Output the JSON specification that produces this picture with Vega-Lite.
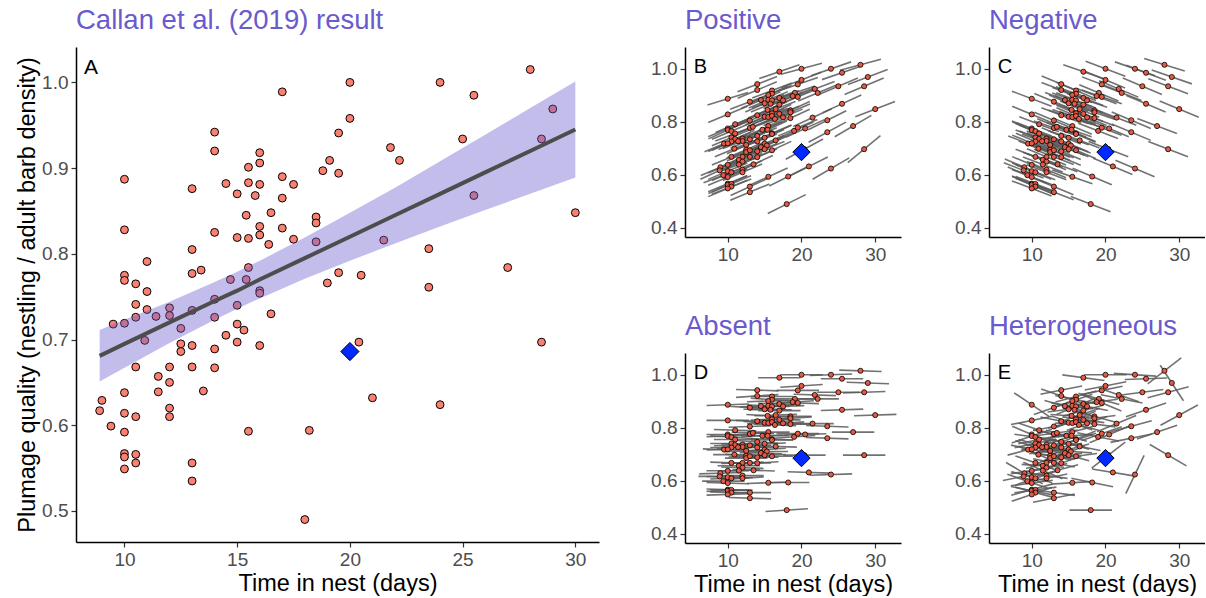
{
"$schema": "https://vega.github.io/schema/vega-lite/v6.json",
"padding": {"left": 15, "top": 6, "right": 0, "bottom": 0},
"background": "white",
"config": {
  "view": {"stroke": null},
  "font": "Liberation Sans",
  "axis": {"grid": false, "domainColor": "black", "domainWidth": 1.5, "tickColor": "#333333", "tickWidth": 1.2, "tickSize": 5, "labelColor": "#4D4D4D", "labelFontSize": 19, "labelFont": "Liberation Sans", "titleFont": "Liberation Sans", "titleFontSize": 23.5, "titleFontWeight": "normal", "titleColor": "black", "labelPadding": 3, "titlePadding": 2},
  "title": {"anchor": "start", "frame": "group", "color": "#6A5ACD", "fontSize": 27.5, "fontWeight": "normal", "font": "Liberation Sans", "offset": 13}
},
"datasets": {
  "pts": [
{"x":17,"y":0.989,"b":0.010,"c":-0.010,"d":0,"e":-0.004},
{"x":10,"y":0.887,"b":0.009,"c":-0.011,"d":0.001,"e":-0.018},
{"x":14,"y":0.942,"b":0.011,"c":-0.012,"d":-0.001,"e":0.006},
{"x":14,"y":0.920,"b":0.012,"c":-0.011,"d":0.002,"e":-0.010},
{"x":16,"y":0.918,"b":0.011,"c":-0.012,"d":0,"e":0.008},
{"x":16,"y":0.906,"b":0.012,"c":-0.010,"d":-0.002,"e":-0.006},
{"x":15.5,"y":0.901,"b":0.013,"c":-0.011,"d":0.001,"e":0.010},
{"x":19.1,"y":0.909,"b":0.010,"c":-0.012,"d":0,"e":-0.008},
{"x":18.8,"y":0.897,"b":0.011,"c":-0.011,"d":0.002,"e":0.004},
{"x":19.5,"y":0.894,"b":0.012,"c":-0.010,"d":-0.001,"e":-0.012},
{"x":19.5,"y":0.941,"b":0.010,"c":-0.011,"d":0,"e":0.006},
{"x":13,"y":0.876,"b":0.011,"c":-0.012,"d":-0.002,"e":0.010},
{"x":14.5,"y":0.882,"b":0.012,"c":-0.011,"d":0.001,"e":-0.008},
{"x":15,"y":0.870,"b":0.013,"c":-0.012,"d":0,"e":0.004},
{"x":15.5,"y":0.883,"b":0.012,"c":-0.010,"d":-0.001,"e":-0.004},
{"x":16,"y":0.881,"b":0.011,"c":-0.011,"d":0.002,"e":0.012},
{"x":15.8,"y":0.868,"b":0.012,"c":-0.012,"d":0,"e":-0.010},
{"x":17,"y":0.890,"b":0.011,"c":-0.011,"d":-0.001,"e":0.006},
{"x":17.5,"y":0.881,"b":0.012,"c":-0.010,"d":0.001,"e":-0.006},
{"x":17,"y":0.865,"b":0.013,"c":-0.012,"d":0,"e":0.008},
{"x":15.4,"y":0.845,"b":0.012,"c":-0.011,"d":-0.002,"e":-0.002},
{"x":16.5,"y":0.848,"b":0.011,"c":-0.012,"d":0.001,"e":0.010},
{"x":18.5,"y":0.843,"b":0.013,"c":-0.011,"d":0,"e":-0.008},
{"x":18.5,"y":0.836,"b":0.012,"c":-0.010,"d":0.002,"e":0.004},
{"x":10,"y":0.828,"b":0.012,"c":-0.012,"d":0,"e":0.006},
{"x":14,"y":0.825,"b":0.012,"c":-0.011,"d":-0.001,"e":-0.006},
{"x":16,"y":0.832,"b":0.013,"c":-0.012,"d":0.001,"e":0.012},
{"x":17,"y":0.830,"b":0.011,"c":-0.011,"d":0,"e":-0.004},
{"x":15,"y":0.819,"b":0.012,"c":-0.010,"d":-0.002,"e":0.008},
{"x":15.5,"y":0.818,"b":0.013,"c":-0.011,"d":0.001,"e":-0.010},
{"x":16,"y":0.822,"b":0.012,"c":-0.012,"d":0,"e":0.002},
{"x":16.4,"y":0.811,"b":0.011,"c":-0.011,"d":-0.001,"e":-0.008},
{"x":17.5,"y":0.817,"b":0.012,"c":-0.012,"d":0.002,"e":0.010},
{"x":18.5,"y":0.814,"b":0.013,"c":-0.011,"d":0,"e":-0.004},
{"x":13,"y":0.805,"b":0.012,"c":-0.012,"d":0.001,"e":0.006},
{"x":11,"y":0.791,"b":0.012,"c":-0.011,"d":-0.001,"e":-0.010},
{"x":15.5,"y":0.784,"b":0.013,"c":-0.012,"d":0,"e":0.008},
{"x":13,"y":0.777,"b":0.012,"c":-0.010,"d":0.002,"e":-0.006},
{"x":13.4,"y":0.781,"b":0.011,"c":-0.012,"d":-0.001,"e":0.004},
{"x":10,"y":0.775,"b":0.012,"c":-0.011,"d":0,"e":-0.012},
{"x":10,"y":0.769,"b":0.013,"c":-0.012,"d":0.001,"e":0.010},
{"x":10.5,"y":0.765,"b":0.012,"c":-0.011,"d":-0.002,"e":-0.004},
{"x":11,"y":0.756,"b":0.011,"c":-0.012,"d":0,"e":0.006},
{"x":14.7,"y":0.770,"b":0.012,"c":-0.011,"d":0.001,"e":-0.008},
{"x":15.4,"y":0.770,"b":0.013,"c":-0.010,"d":0,"e":0.002},
{"x":16,"y":0.757,"b":0.012,"c":-0.012,"d":-0.001,"e":0.012},
{"x":19,"y":0.766,"b":0.013,"c":-0.011,"d":0.002,"e":-0.006},
{"x":20,"y":1.000,"b":0.008,"c":-0.011,"d":0,"e":0},
{"x":24,"y":1.000,"b":0.010,"c":-0.010,"d":0.001,"e":-0.002},
{"x":28,"y":1.015,"b":0.008,"c":-0.009,"d":-0.001,"e":0.020},
{"x":25.5,"y":0.985,"b":0.010,"c":-0.011,"d":0,"e":0.001},
{"x":20,"y":0.958,"b":0.011,"c":-0.012,"d":0.002,"e":0.006},
{"x":29,"y":0.969,"b":0.011,"c":-0.010,"d":-0.001,"e":-0.030},
{"x":25,"y":0.934,"b":0.012,"c":-0.012,"d":0,"e":0.004},
{"x":28.5,"y":0.934,"b":0.012,"c":-0.011,"d":0.001,"e":0.008},
{"x":21.8,"y":0.924,"b":0.011,"c":-0.012,"d":-0.001,"e":-0.010},
{"x":22.2,"y":0.909,"b":0.012,"c":-0.011,"d":0,"e":-0.006},
{"x":25.5,"y":0.868,"b":0.013,"c":-0.012,"d":0.001,"e":0.010},
{"x":30,"y":0.848,"b":0.011,"c":-0.012,"d":0.001,"e":0.015},
{"x":21.5,"y":0.816,"b":0.013,"c":-0.011,"d":0,"e":0.012},
{"x":23.5,"y":0.806,"b":0.014,"c":-0.012,"d":-0.001,"e":0.008},
{"x":19.5,"y":0.778,"b":0.012,"c":-0.011,"d":0,"e":0.010},
{"x":20.5,"y":0.775,"b":0.013,"c":-0.012,"d":0.001,"e":0.012},
{"x":27,"y":0.784,"b":0.016,"c":-0.011,"d":0,"e":0.010},
{"x":23.5,"y":0.761,"b":0.015,"c":-0.012,"d":-0.001,"e":0.006},
{"x":20.4,"y":0.697,"b":0.015,"c":-0.011,"d":0,"e":0.020},
{"x":28.5,"y":0.697,"b":0.021,"c":-0.011,"d":0,"e":-0.016},
{"x":21,"y":0.632,"b":0.014,"c":-0.012,"d":-0.001,"e":-0.005},
{"x":24,"y":0.624,"b":0.016,"c":-0.012,"d":0.001,"e":0.034},
{"x":10.5,"y":0.741,"b":0.012,"c":-0.011,"d":0,"e":0.006},
{"x":11,"y":0.735,"b":0.013,"c":-0.012,"d":0.001,"e":-0.008},
{"x":12,"y":0.737,"b":0.012,"c":-0.011,"d":-0.001,"e":0.010},
{"x":12,"y":0.728,"b":0.011,"c":-0.012,"d":0,"e":-0.004},
{"x":11.4,"y":0.727,"b":0.012,"c":-0.010,"d":0.002,"e":0.004},
{"x":10.5,"y":0.726,"b":0.013,"c":-0.012,"d":0,"e":-0.010},
{"x":9.5,"y":0.718,"b":0.012,"c":-0.011,"d":-0.001,"e":0.008},
{"x":10,"y":0.719,"b":0.012,"c":-0.012,"d":0.001,"e":-0.006},
{"x":13,"y":0.734,"b":0.013,"c":-0.011,"d":0,"e":0.012},
{"x":14,"y":0.747,"b":0.012,"c":-0.012,"d":-0.002,"e":-0.004},
{"x":14,"y":0.726,"b":0.011,"c":-0.011,"d":0,"e":0.006},
{"x":15,"y":0.740,"b":0.012,"c":-0.010,"d":0.001,"e":-0.008},
{"x":16,"y":0.754,"b":0.013,"c":-0.012,"d":0,"e":0.010},
{"x":16.5,"y":0.730,"b":0.012,"c":-0.011,"d":-0.001,"e":-0.006},
{"x":12.5,"y":0.713,"b":0.013,"c":-0.012,"d":0.001,"e":0.004},
{"x":10.9,"y":0.699,"b":0.012,"c":-0.011,"d":0,"e":-0.012},
{"x":15,"y":0.718,"b":0.012,"c":-0.012,"d":0.002,"e":0.008},
{"x":15.3,"y":0.711,"b":0.013,"c":-0.011,"d":0,"e":-0.002},
{"x":14.5,"y":0.705,"b":0.012,"c":-0.012,"d":-0.001,"e":0.010},
{"x":15,"y":0.697,"b":0.011,"c":-0.011,"d":0.001,"e":-0.008},
{"x":16,"y":0.693,"b":0.013,"c":-0.012,"d":0,"e":0.004},
{"x":12.5,"y":0.695,"b":0.012,"c":-0.011,"d":-0.002,"e":-0.006},
{"x":12.5,"y":0.686,"b":0.013,"c":-0.012,"d":0,"e":0.012},
{"x":13,"y":0.693,"b":0.012,"c":-0.011,"d":0.001,"e":-0.004},
{"x":14,"y":0.689,"b":0.011,"c":-0.012,"d":0,"e":0.006},
{"x":10.5,"y":0.668,"b":0.012,"c":-0.011,"d":-0.001,"e":-0.010},
{"x":12,"y":0.668,"b":0.013,"c":-0.012,"d":0.001,"e":0.008},
{"x":13,"y":0.668,"b":0.012,"c":-0.011,"d":0,"e":-0.006},
{"x":14,"y":0.667,"b":0.012,"c":-0.012,"d":0.002,"e":0.010},
{"x":11.5,"y":0.657,"b":0.013,"c":-0.011,"d":0,"e":-0.002},
{"x":12,"y":0.650,"b":0.012,"c":-0.012,"d":-0.001,"e":0.006},
{"x":11.5,"y":0.639,"b":0.011,"c":-0.011,"d":0.001,"e":-0.012},
{"x":10,"y":0.638,"b":0.012,"c":-0.012,"d":0,"e":0.004},
{"x":13.5,"y":0.640,"b":0.013,"c":-0.011,"d":-0.001,"e":0.008},
{"x":9,"y":0.629,"b":0.012,"c":-0.012,"d":0.001,"e":-0.016},
{"x":8.9,"y":0.617,"b":0.013,"c":-0.011,"d":0,"e":0.006},
{"x":10,"y":0.614,"b":0.012,"c":-0.012,"d":-0.001,"e":-0.008},
{"x":10.5,"y":0.610,"b":0.012,"c":-0.011,"d":0.001,"e":0.010},
{"x":12,"y":0.620,"b":0.013,"c":-0.012,"d":0,"e":-0.004},
{"x":12,"y":0.610,"b":0.012,"c":-0.011,"d":0.002,"e":0.006},
{"x":9.4,"y":0.599,"b":0.011,"c":-0.012,"d":0,"e":-0.010},
{"x":10,"y":0.592,"b":0.012,"c":-0.011,"d":-0.001,"e":0.004},
{"x":15.5,"y":0.593,"b":0.013,"c":-0.010,"d":0.001,"e":0.002},
{"x":18.2,"y":0.594,"b":0.014,"c":-0.012,"d":0,"e":-0.006},
{"x":10,"y":0.567,"b":0.012,"c":-0.011,"d":-0.001,"e":0.008},
{"x":10,"y":0.563,"b":0.013,"c":-0.012,"d":0.001,"e":-0.006},
{"x":10.5,"y":0.566,"b":0.012,"c":-0.011,"d":0,"e":0.004},
{"x":10.5,"y":0.556,"b":0.011,"c":-0.012,"d":-0.001,"e":-0.008},
{"x":10,"y":0.549,"b":0.012,"c":-0.011,"d":0.001,"e":0.010},
{"x":13,"y":0.556,"b":0.013,"c":-0.012,"d":0,"e":-0.004},
{"x":13,"y":0.535,"b":0.012,"c":-0.011,"d":-0.001,"e":0.006},
{"x":18,"y":0.490,"b":0.014,"c":-0.011,"d":0.002,"e":0}
  ],
  "dia": [{"x": 20, "y": 0.686}],
  "band": [
{"x":8.9,"lo":0.651,"hi":0.711,"fit":0.681},
{"x":10,"lo":0.667,"hi":0.723,"fit":0.695},
{"x":12,"lo":0.696,"hi":0.744,"fit":0.720},
{"x":14,"lo":0.723,"hi":0.767,"fit":0.745},
{"x":15,"lo":0.736,"hi":0.779,"fit":0.757},
{"x":16,"lo":0.748,"hi":0.792,"fit":0.770},
{"x":18,"lo":0.771,"hi":0.819,"fit":0.795},
{"x":20,"lo":0.792,"hi":0.848,"fit":0.820},
{"x":22,"lo":0.812,"hi":0.877,"fit":0.845},
{"x":24,"lo":0.832,"hi":0.908,"fit":0.870},
{"x":26,"lo":0.851,"hi":0.939,"fit":0.895},
{"x":28,"lo":0.870,"hi":0.970,"fit":0.920},
{"x":30,"lo":0.889,"hi":1.001,"fit":0.945}
  ]
},
"hconcat": [
  {
    "title": "Callan et al. (2019) result",
    "width": 523, "height": 495,
    "layer": [
      {"data": {"name": "pts"},
       "mark": {"type": "point", "shape": "circle", "filled": true, "fill": "#FA8072", "stroke": "black", "strokeWidth": 1, "size": 62, "opacity": 1},
       "encoding": {
         "x": {"field": "x", "type": "quantitative", "scale": {"domain": [7.85, 31.05], "nice": false, "zero": false}, "axis": {"values": [10, 15, 20, 25, 30], "title": "Time in nest (days)"}},
         "y": {"field": "y", "type": "quantitative", "scale": {"domain": [0.4638, 1.0413], "nice": false, "zero": false}, "axis": {"values": [0.5, 0.6, 0.7, 0.8, 0.9, 1.0], "format": ".1f", "title": "Plumage quality (nestling / adult barb density)"}}
       }},
      {"data": {"name": "band"},
       "mark": {"type": "area", "color": "#6A5ACD", "opacity": 0.4},
       "encoding": {
         "x": {"field": "x", "type": "quantitative", "title": "Time in nest (days)"},
         "y": {"field": "lo", "type": "quantitative", "title": "Plumage quality (nestling / adult barb density)"},
         "y2": {"field": "hi"}
       }},
      {"data": {"name": "band"},
       "mark": {"type": "line", "color": "#4D4D4D", "strokeWidth": 4},
       "encoding": {
         "x": {"field": "x", "type": "quantitative", "title": "Time in nest (days)"},
         "y": {"field": "fit", "type": "quantitative", "title": "Plumage quality (nestling / adult barb density)"}
       }},
      {"data": {"name": "dia"},
       "mark": {"type": "point", "shape": "diamond", "filled": true, "fill": "#0028FF", "stroke": "black", "strokeWidth": 1, "size": 330, "opacity": 1},
       "encoding": {
         "x": {"field": "x", "type": "quantitative", "title": "Time in nest (days)"},
         "y": {"field": "y", "type": "quantitative", "title": "Plumage quality (nestling / adult barb density)"}
       }},
      {"data": {"values": [{"t": "A"}]},
       "mark": {"type": "text", "align": "left", "baseline": "alphabetic", "fontSize": 21, "color": "black", "font": "Liberation Sans"},
       "encoding": {
         "x": {"datum": 8.2, "type": "quantitative"},
         "y": {"datum": 1.01, "type": "quantitative"},
         "text": {"field": "t"}
       }}
    ]
  },
  {
    "columns": 2,
    "spacing": {"row": 116, "column": 88},
    "bounds": "flush",
    "concat": [
      {
        "title": "Positive",
        "width": 216, "height": 190,
        "layer": [
          {"data": {"name": "pts"},
           "mark": {"type": "point", "shape": "stroke", "strokeWidth": 1.6, "color": "#5A5A5A", "opacity": 0.85, "size": 1800},
           "encoding": {
             "x": {"field": "x", "type": "quantitative", "scale": {"domain": [4.2, 33.5], "nice": false, "zero": false}, "axis": {"values": [10, 20, 30], "title": null}},
             "y": {"field": "y", "type": "quantitative", "scale": {"domain": [0.366, 1.082], "nice": false, "zero": false}, "axis": {"values": [0.4, 0.6, 0.8, 1.0], "format": ".1f", "title": null}},
             "angle": {"field": "b", "type": "quantitative", "scale": {"domain": [-0.015, 0.015], "range": [28.4, -28.4]}, "legend": null}
           }},
          {"data": {"name": "pts"},
           "mark": {"type": "point", "shape": "circle", "filled": true, "fill": "#E45A44", "stroke": "black", "strokeWidth": 0.8, "size": 26, "opacity": 1},
           "encoding": {"x": {"field": "x", "type": "quantitative"}, "y": {"field": "y", "type": "quantitative"}}},
          {"data": {"name": "dia"},
           "mark": {"type": "point", "shape": "diamond", "filled": true, "fill": "#0028FF", "stroke": "black", "strokeWidth": 1, "size": 300, "opacity": 1},
           "encoding": {"x": {"field": "x", "type": "quantitative"}, "y": {"field": "y", "type": "quantitative"}}},
          {"data": {"values": [{"t": "B"}]},
           "mark": {"type": "text", "align": "left", "baseline": "alphabetic", "fontSize": 20, "color": "black", "font": "Liberation Sans"},
           "encoding": {"x": {"datum": 5.4, "type": "quantitative"}, "y": {"datum": 0.983, "type": "quantitative"}, "text": {"field": "t"}}}
        ]
      },
      {
        "title": "Negative",
        "width": 216, "height": 190,
        "layer": [
          {"data": {"name": "pts"},
           "mark": {"type": "point", "shape": "stroke", "strokeWidth": 1.6, "color": "#5A5A5A", "opacity": 0.85, "size": 1800},
           "encoding": {
             "x": {"field": "x", "type": "quantitative", "scale": {"domain": [4.2, 33.5], "nice": false, "zero": false}, "axis": {"values": [10, 20, 30], "title": null}},
             "y": {"field": "y", "type": "quantitative", "scale": {"domain": [0.366, 1.082], "nice": false, "zero": false}, "axis": {"values": [0.4, 0.6, 0.8, 1.0], "format": ".1f", "title": null}},
             "angle": {"field": "c", "type": "quantitative", "scale": {"domain": [-0.015, 0.015], "range": [28.4, -28.4]}, "legend": null}
           }},
          {"data": {"name": "pts"},
           "mark": {"type": "point", "shape": "circle", "filled": true, "fill": "#E45A44", "stroke": "black", "strokeWidth": 0.8, "size": 26, "opacity": 1},
           "encoding": {"x": {"field": "x", "type": "quantitative"}, "y": {"field": "y", "type": "quantitative"}}},
          {"data": {"name": "dia"},
           "mark": {"type": "point", "shape": "diamond", "filled": true, "fill": "#0028FF", "stroke": "black", "strokeWidth": 1, "size": 300, "opacity": 1},
           "encoding": {"x": {"field": "x", "type": "quantitative"}, "y": {"field": "y", "type": "quantitative"}}},
          {"data": {"values": [{"t": "C"}]},
           "mark": {"type": "text", "align": "left", "baseline": "alphabetic", "fontSize": 20, "color": "black", "font": "Liberation Sans"},
           "encoding": {"x": {"datum": 5.4, "type": "quantitative"}, "y": {"datum": 0.983, "type": "quantitative"}, "text": {"field": "t"}}}
        ]
      },
      {
        "title": "Absent",
        "width": 216, "height": 190,
        "layer": [
          {"data": {"name": "pts"},
           "mark": {"type": "point", "shape": "stroke", "strokeWidth": 1.6, "color": "#5A5A5A", "opacity": 0.85, "size": 1800},
           "encoding": {
             "x": {"field": "x", "type": "quantitative", "scale": {"domain": [4.2, 33.5], "nice": false, "zero": false}, "axis": {"values": [10, 20, 30], "title": "Time in nest (days)"}},
             "y": {"field": "y", "type": "quantitative", "scale": {"domain": [0.366, 1.082], "nice": false, "zero": false}, "axis": {"values": [0.4, 0.6, 0.8, 1.0], "format": ".1f", "title": null}},
             "angle": {"field": "d", "type": "quantitative", "scale": {"domain": [-0.015, 0.015], "range": [28.4, -28.4]}, "legend": null}
           }},
          {"data": {"name": "pts"},
           "mark": {"type": "point", "shape": "circle", "filled": true, "fill": "#E45A44", "stroke": "black", "strokeWidth": 0.8, "size": 26, "opacity": 1},
           "encoding": {"x": {"field": "x", "type": "quantitative"}, "y": {"field": "y", "type": "quantitative"}}},
          {"data": {"name": "dia"},
           "mark": {"type": "point", "shape": "diamond", "filled": true, "fill": "#0028FF", "stroke": "black", "strokeWidth": 1, "size": 300, "opacity": 1},
           "encoding": {"x": {"field": "x", "type": "quantitative"}, "y": {"field": "y", "type": "quantitative"}}},
          {"data": {"values": [{"t": "D"}]},
           "mark": {"type": "text", "align": "left", "baseline": "alphabetic", "fontSize": 20, "color": "black", "font": "Liberation Sans"},
           "encoding": {"x": {"datum": 5.4, "type": "quantitative"}, "y": {"datum": 0.983, "type": "quantitative"}, "text": {"field": "t"}}}
        ]
      },
      {
        "title": "Heterogeneous",
        "width": 216, "height": 190,
        "layer": [
          {"data": {"name": "pts"},
           "mark": {"type": "point", "shape": "stroke", "strokeWidth": 1.6, "color": "#5A5A5A", "opacity": 0.85, "size": 1800},
           "encoding": {
             "x": {"field": "x", "type": "quantitative", "scale": {"domain": [4.2, 33.5], "nice": false, "zero": false}, "axis": {"values": [10, 20, 30], "title": "Time in nest (days)"}},
             "y": {"field": "y", "type": "quantitative", "scale": {"domain": [0.366, 1.082], "nice": false, "zero": false}, "axis": {"values": [0.4, 0.6, 0.8, 1.0], "format": ".1f", "title": null}},
             "angle": {"field": "e", "type": "quantitative", "scale": {"domain": [-0.015, 0.015], "range": [28.4, -28.4]}, "legend": null}
           }},
          {"data": {"name": "pts"},
           "mark": {"type": "point", "shape": "circle", "filled": true, "fill": "#E45A44", "stroke": "black", "strokeWidth": 0.8, "size": 26, "opacity": 1},
           "encoding": {"x": {"field": "x", "type": "quantitative"}, "y": {"field": "y", "type": "quantitative"}}},
          {"data": {"name": "dia"},
           "mark": {"type": "point", "shape": "diamond", "filled": true, "fill": "#0028FF", "stroke": "black", "strokeWidth": 1, "size": 300, "opacity": 1},
           "encoding": {"x": {"field": "x", "type": "quantitative"}, "y": {"field": "y", "type": "quantitative"}}},
          {"data": {"values": [{"t": "E"}]},
           "mark": {"type": "text", "align": "left", "baseline": "alphabetic", "fontSize": 20, "color": "black", "font": "Liberation Sans"},
           "encoding": {"x": {"datum": 5.4, "type": "quantitative"}, "y": {"datum": 0.983, "type": "quantitative"}, "text": {"field": "t"}}}
        ]
      }
    ]
  }
],
"spacing": 86,
"bounds": "flush"
}
